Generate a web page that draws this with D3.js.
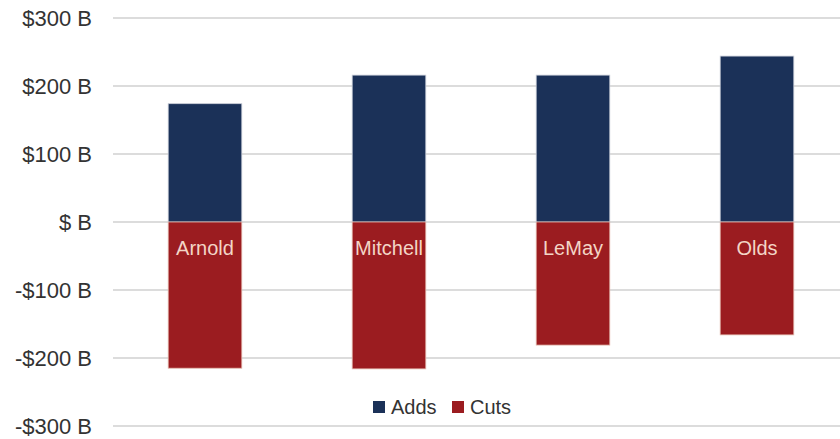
<!DOCTYPE html>
<html>
<head>
<meta charset="utf-8">
<script src="https://cdn.jsdelivr.net/npm/d3@7"></script>
<style>
  body { margin: 0; background: #fff; }
  svg { display: block; font-family: "Liberation Sans", Arial, sans-serif; }
</style>
</head>
<body>
<div id="chart"></div>
<script>
// values in $ billions
const planes = ["Arnold", "Mitchell", "LeMay", "Olds"];
const adds = [174, 216, 216, 244];
const cuts = [-215, -216, -181, -166];
const yTicks = [300, 200, 100, 0, -100, -200, -300];
const series = ["Adds", "Cuts"];
const colors = { Adds: "#1b3158", Cuts: "#9b1c20" };

const width = 840, height = 439;

const svg = d3.select("#chart").append("svg")
  .attr("width", width)
  .attr("height", height);

const x = d3.scaleBand()
  .domain(planes)
  .range([113, 849])
  .paddingInner(0.6)
  .paddingOuter(0.3);

const y = d3.scaleLinear()
  .domain([-300, 300])
  .range([426, 18]);

// gridlines
svg.append("g")
  .selectAll("line")
  .data(yTicks)
  .join("line")
  .attr("x1", 113)
  .attr("x2", width)
  .attr("y1", d => y(d))
  .attr("y2", d => y(d))
  .attr("stroke", "#dcdcdc")
  .attr("stroke-width", 2);

// y axis labels
const fmt = d => (d < 0 ? "-$" : "$") + (d === 0 ? "" : Math.abs(d)) + " B";
svg.append("g")
  .selectAll("text")
  .data(yTicks)
  .join("text")
  .attr("x", 92)
  .attr("y", d => y(d))
  .attr("dy", "0.36em")
  .attr("text-anchor", "end")
  .attr("font-size", 22)
  .attr("fill", "#333")
  .text(fmt);

// bars
const rows = planes.map((p, i) => ({ plane: p, adds: adds[i], cuts: cuts[i] }));

svg.append("g")
  .selectAll("rect")
  .data(rows)
  .join("rect")
  .attr("x", d => x(d.plane))
  .attr("width", x.bandwidth())
  .attr("y", d => y(d.adds))
  .attr("height", d => y(0) - y(d.adds))
  .attr("fill", colors.Adds)
  .attr("stroke", "#c9cdd8")
  .attr("stroke-width", 0.8);

svg.append("g")
  .selectAll("rect")
  .data(rows)
  .join("rect")
  .attr("x", d => x(d.plane))
  .attr("width", x.bandwidth())
  .attr("y", y(0))
  .attr("height", d => y(d.cuts) - y(0))
  .attr("fill", colors.Cuts)
  .attr("stroke", "#e3b9ad")
  .attr("stroke-width", 0.8);

// category labels inside the cut bars
svg.append("g")
  .selectAll("text")
  .data(rows)
  .join("text")
  .attr("x", d => x(d.plane) + x.bandwidth() / 2)
  .attr("y", y(0) + 26)
  .attr("dy", "0.36em")
  .attr("text-anchor", "middle")
  .attr("font-size", 20)
  .attr("fill", "#f3d5c6")
  .text(d => d.plane);

// legend
const legend = svg.append("g").attr("transform", "translate(373,407)");
const items = legend.selectAll("g")
  .data(series)
  .join("g")
  .attr("transform", (d, i) => `translate(${i * 79},0)`);

items.append("rect")
  .attr("x", 0)
  .attr("y", -6)
  .attr("width", 12)
  .attr("height", 12)
  .attr("fill", d => colors[d]);

items.append("text")
  .attr("x", 18)
  .attr("y", 0)
  .attr("dy", "0.36em")
  .attr("font-size", 20)
  .attr("fill", "#333")
  .text(d => d);
</script>
</body>
</html>
